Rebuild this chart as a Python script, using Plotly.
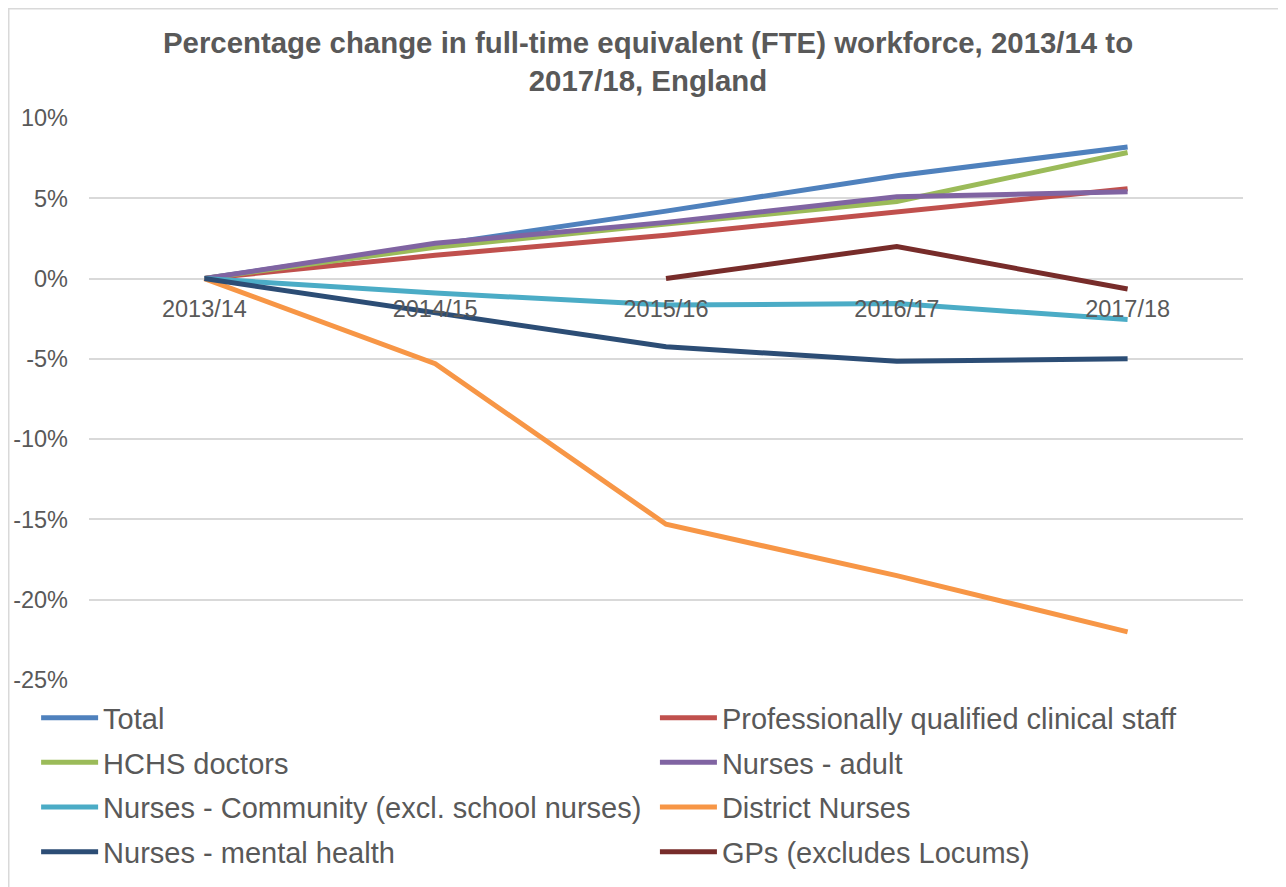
import plotly.graph_objects as go

years = ["2013/14", "2014/15", "2015/16", "2016/17", "2017/18"]
total = [0, 2.1, 4.2, 6.4, 8.2]
prof_qualified = [0, 1.45, 2.7, 4.15, 5.6]
hchs_doctors = [0, 1.95, 3.4, 4.8, 7.85]
nurses_adult = [0, 2.2, 3.5, 5.1, 5.4]
nurses_community = [0, -0.9, -1.65, -1.55, -2.55]
district_nurses = [0, -5.3, -15.3, -18.5, -22.0]
nurses_mental = [0, -2.1, -4.25, -5.15, -5.0]
gps = [None, None, 0, 2.0, -0.65]

y_tickvals = [-25, -20, -15, -10, -5, 0, 5, 10]
y_ticktext = ["-25%", "-20%", "-15%", "-10%", "-5%", "0%", "5%", "10%"]

series = [
    ("Total", total, "#4f81bd", "legend"),
    ("Professionally qualified clinical staff", prof_qualified, "#c0504d", "legend2"),
    ("HCHS doctors", hchs_doctors, "#9bbb59", "legend"),
    ("Nurses - adult", nurses_adult, "#8064a2", "legend2"),
    ("Nurses - Community (excl. school nurses)", nurses_community, "#4bacc6", "legend"),
    ("District Nurses", district_nurses, "#f79646", "legend2"),
    ("Nurses - mental health", nurses_mental, "#2c4d75", "legend"),
    ("GPs (excludes Locums)", gps, "#772c2a", "legend2"),
]

TXT = "#595959"
GRID = "#d9d9d9"
FONT = "Liberation Sans, Arial, sans-serif"

W, H = 1278, 879
L, R, T, B = 81, 43, 110, 207
PW, PH = W - L - R, H - T - B

fig = go.Figure()
for name, vals, color, leg in series:
    fig.add_trace(go.Scatter(
        x=years, y=vals, name=name, mode="lines",
        line=dict(color=color, width=5),
        legend=leg, legendgroup=name,
        connectgaps=False,
        hovertemplate="%{x}: %{y:.1f}%<extra>" + name + "</extra>",
    ))

fig.update_layout(
    width=W, height=H,
    margin=dict(l=L, r=R, t=T, b=B, autoexpand=False),
    paper_bgcolor="white", plot_bgcolor="white",
    font=dict(family=FONT, color=TXT),
    title=dict(
        text="<b>Percentage change in full-time equivalent (FTE) workforce, 2013/14 to<br>2017/18, England</b>",
        x=0.5008, xanchor="center", y=0.949, yanchor="top", yref="container",
        font=dict(size=29.4, color=TXT, family=FONT),
    ),
    xaxis=dict(
        type="category", range=[-0.5, 4.5],
        showgrid=False, showline=False, zeroline=False,
        anchor="free", position=25 / 35,
        ticks="", ticklabelstandoff=14,
        tickfont=dict(size=23.5, color=TXT),
    ),
    yaxis=dict(
        range=[-25, 10], tickvals=y_tickvals, ticktext=y_ticktext,
        showgrid=True, gridcolor=GRID, gridwidth=1.5,
        zeroline=False, showline=False, ticks="",
        ticklabelstandoff=20,
        tickfont=dict(size=23.5, color=TXT),
    ),
    legend=dict(
        xref="container", yref="container", x=0.022, y=0.2215,
        xanchor="left", yanchor="top", orientation="v",
        font=dict(size=29, color=TXT), itemwidth=57,
        tracegroupgap=4, bgcolor="rgba(0,0,0,0)", traceorder="grouped",
    ),
    legend2=dict(
        xref="container", yref="container", x=0.5062, y=0.2215,
        xanchor="left", yanchor="top", orientation="v",
        font=dict(size=29, color=TXT), itemwidth=57,
        tracegroupgap=4, bgcolor="rgba(0,0,0,0)", traceorder="grouped",
    ),
    shapes=[dict(
        type="rect", xref="paper", yref="paper",
        x0=(0.75 - L) / PW, x1=(1275 - L) / PW,
        y0=(H - B - (H + 10)) / PH, y1=(H - B - 0.75) / PH,
        line=dict(color=GRID, width=1.5), fillcolor="rgba(0,0,0,0)", layer="below",
    )],
)

fig.write_html("out.html")
